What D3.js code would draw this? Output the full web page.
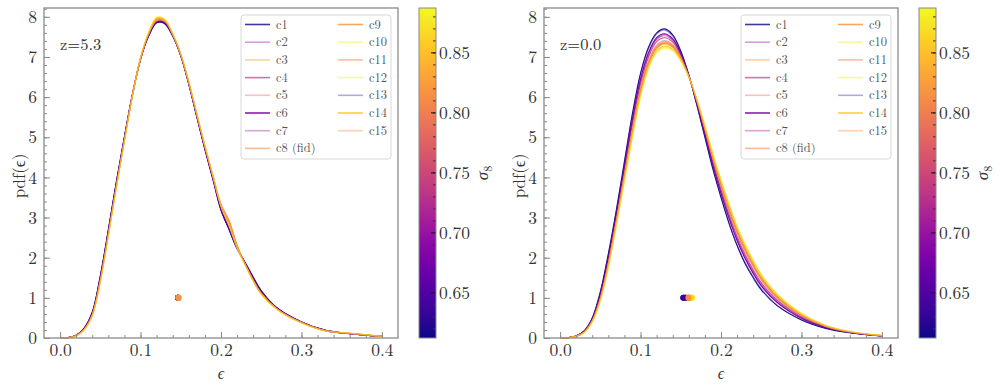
<!DOCTYPE html>
<html>
<head>
<meta charset="utf-8">
<script src="https://cdn.jsdelivr.net/npm/d3@7"></script>
<style>
  body { margin: 0; background: #fff; }
  svg { display: block; }
</style>
</head>
<body>
<svg id="chart" width="1000" height="387"></svg>
<script>
// cosmologies and their sigma_8 (colour) and line alpha
const names = ['c1', 'c2', 'c3', 'c4', 'c5', 'c6', 'c7', 'c8 (fid)',
               'c9', 'c10', 'c11', 'c12', 'c13', 'c14', 'c15'];
const sigma8 = [0.612, 0.695, 0.832, 0.736, 0.777, 0.681, 0.708, 0.810,
                0.820, 0.873, 0.800, 0.887, 0.630, 0.860, 0.815];
const lineAlpha = [0.8, 0.4, 0.5, 0.7, 0.4, 0.9, 0.4, 0.6,
                   0.85, 0.4, 0.5, 0.5, 0.35, 0.9, 0.4];

// epsilon grid where the pdfs are sampled
const epsGrid = [0, .01, .02, .03, .04, .05, .06, .07, .08, .09, .10, .11, .12, .13, .14, .15,
                 .16, .17, .18, .19, .20, .21, .22, .23, .24, .25, .27, .30, .33, .36, .40];

// pdf(eps) at z=5.3, one row per cosmology (c1..c15)
const pdfZ53 = [
  [0,.01,.07,.25,.64,1.55,2.70,3.90,5.02,6.08,6.95,7.52,7.85,7.83,7.52,7.03,6.32,5.50,4.70,3.95,3.18,2.70,2.22,1.88,1.52,1.18,.74,.40,.19,.11,.04],
  [0,.01,.06,.23,.61,1.50,2.65,3.85,4.98,6.06,6.95,7.53,7.87,7.86,7.53,7.04,6.33,5.52,4.72,3.98,3.22,2.76,2.24,1.86,1.48,1.14,.73,.39,.18,.11,.04],
  [0,.01,.06,.21,.57,1.43,2.57,3.78,4.93,6.05,6.97,7.59,7.96,7.92,7.57,7.06,6.37,5.56,4.77,4.02,3.28,2.82,2.25,1.83,1.43,1.10,.71,.38,.18,.12,.04],
  [0,.01,.06,.22,.59,1.47,2.62,3.82,4.96,6.06,6.95,7.55,7.89,7.87,7.54,7.05,6.35,5.54,4.74,4.00,3.24,2.80,2.25,1.85,1.46,1.12,.72,.39,.18,.11,.04],
  [0,.01,.06,.22,.58,1.45,2.60,3.80,4.95,6.05,6.95,7.56,7.90,7.88,7.55,7.05,6.36,5.56,4.76,4.02,3.30,2.90,2.30,1.84,1.44,1.11,.72,.39,.18,.11,.04],
  [0,.01,.07,.24,.63,1.53,2.68,3.88,5.00,6.07,6.95,7.53,7.86,7.85,7.53,7.04,6.33,5.51,4.71,3.96,3.20,2.72,2.23,1.87,1.50,1.16,.74,.40,.19,.11,.04],
  [0,.01,.06,.23,.61,1.49,2.64,3.84,4.97,6.06,6.95,7.54,7.88,7.86,7.54,7.05,6.34,5.53,4.73,3.99,3.23,2.78,2.24,1.86,1.47,1.13,.73,.39,.18,.11,.04],
  [0,.01,.06,.22,.58,1.44,2.59,3.79,4.94,6.05,6.96,7.57,7.92,7.90,7.56,7.06,6.36,5.56,4.77,4.03,3.31,2.90,2.28,1.84,1.44,1.11,.72,.39,.18,.11,.04],
  [0,.01,.06,.21,.57,1.43,2.58,3.78,4.93,6.04,6.96,7.58,7.95,7.92,7.57,7.06,6.37,5.57,4.78,4.05,3.33,2.93,2.32,1.84,1.43,1.10,.71,.38,.18,.12,.04],
  [0,.01,.05,.20,.55,1.40,2.55,3.76,4.92,6.05,6.98,7.61,7.98,7.95,7.58,7.07,6.38,5.57,4.78,4.03,3.28,2.81,2.24,1.82,1.42,1.09,.70,.38,.18,.12,.04],
  [0,.01,.06,.22,.58,1.44,2.59,3.79,4.94,6.05,6.96,7.57,7.93,7.90,7.56,7.06,6.36,5.56,4.76,4.02,3.28,2.84,2.26,1.84,1.44,1.11,.72,.39,.18,.11,.04],
  [0,.01,.05,.20,.55,1.39,2.54,3.75,4.91,6.05,6.99,7.63,8.00,7.95,7.58,7.07,6.38,5.57,4.78,4.03,3.27,2.80,2.23,1.82,1.42,1.09,.70,.38,.18,.12,.04],
  [0,.01,.07,.25,.64,1.54,2.69,3.89,5.01,6.08,6.95,7.52,7.86,7.84,7.52,7.03,6.32,5.50,4.70,3.95,3.19,2.71,2.22,1.88,1.51,1.17,.74,.40,.19,.11,.04],
  [0,.01,.05,.21,.56,1.41,2.56,3.77,4.92,6.05,6.97,7.60,7.97,7.93,7.57,7.07,6.37,5.57,4.78,4.03,3.29,2.83,2.25,1.83,1.43,1.10,.71,.38,.18,.12,.04],
  [0,.01,.06,.22,.58,1.45,2.60,3.80,4.95,6.05,6.96,7.56,7.91,7.89,7.55,7.06,6.36,5.55,4.76,4.02,3.29,2.86,2.27,1.84,1.44,1.11,.72,.39,.18,.11,.04]
];

// pdf(eps) at z=0.0, one row per cosmology (c1..c15)
const pdfZ00 = [
  [0,.01,.05,.18,.50,1.15,2.10,3.20,4.40,5.60,6.60,7.25,7.60,7.70,7.55,7.15,6.55,5.80,5.00,4.20,3.50,2.85,2.30,1.85,1.50,1.20,.80,.45,.24,.13,.05],
  [0,.01,.05,.17,.47,1.08,2.00,3.08,4.25,5.42,6.42,7.09,7.45,7.56,7.43,7.08,6.54,5.85,5.09,4.32,3.64,3.00,2.45,2.00,1.64,1.32,.89,.50,.26,.14,.05],
  [0,.01,.04,.15,.42,.97,1.82,2.88,4.00,5.12,6.12,6.81,7.20,7.32,7.23,6.95,6.51,5.92,5.24,4.52,3.86,3.25,2.70,2.25,1.86,1.52,1.04,.59,.30,.15,.06],
  [0,.01,.05,.16,.46,1.05,1.94,3.02,4.18,5.33,6.33,7.00,7.38,7.48,7.37,7.04,6.53,5.87,5.14,4.38,3.70,3.08,2.53,2.08,1.70,1.38,.94,.53,.28,.14,.05],
  [0,.01,.04,.16,.44,1.01,1.89,2.96,4.10,5.24,6.24,6.92,7.30,7.41,7.31,7.00,6.52,5.89,5.18,4.44,3.77,3.15,2.60,2.15,1.77,1.44,.98,.55,.29,.15,.06],
  [0,.01,.05,.17,.48,1.09,2.01,3.10,4.28,5.45,6.45,7.11,7.48,7.58,7.45,7.09,6.54,5.84,5.08,4.30,3.61,2.98,2.43,1.98,1.61,1.30,.88,.49,.26,.14,.05],
  [0,.01,.05,.17,.47,1.07,1.98,3.06,4.23,5.39,6.39,7.06,7.43,7.53,7.41,7.06,6.53,5.85,5.11,4.34,3.66,3.03,2.48,2.03,1.66,1.34,.91,.51,.27,.14,.05],
  [0,.01,.04,.15,.43,.98,1.85,2.91,4.04,5.17,6.17,6.85,7.24,7.35,7.26,6.97,6.51,5.91,5.22,4.49,3.82,3.21,2.66,2.21,1.82,1.49,1.02,.57,.30,.15,.06],
  [0,.01,.04,.15,.42,.98,1.83,2.90,4.02,5.14,6.14,6.83,7.22,7.34,7.25,6.96,6.51,5.91,5.23,4.50,3.84,3.23,2.68,2.23,1.84,1.50,1.03,.58,.30,.15,.06],
  [0,.01,.04,.14,.41,.93,1.77,2.82,3.93,5.03,6.03,6.73,7.13,7.24,7.17,6.91,6.50,5.94,5.29,4.58,3.93,3.33,2.78,2.33,1.93,1.58,1.09,.61,.32,.16,.06],
  [0,.01,.04,.15,.43,.99,1.86,2.93,4.06,5.19,6.19,6.88,7.26,7.37,7.28,6.98,6.52,5.90,5.20,4.47,3.81,3.19,2.64,2.19,1.81,1.47,1.00,.57,.29,.15,.06],
  [0,.01,.04,.14,.40,.92,1.75,2.80,3.90,5.00,6.00,6.70,7.10,7.22,7.15,6.90,6.50,5.95,5.30,4.60,3.95,3.35,2.80,2.35,1.95,1.60,1.10,.62,.32,.16,.06],
  [0,.01,.05,.18,.49,1.13,2.08,3.17,4.37,5.56,6.56,7.21,7.57,7.67,7.52,7.13,6.55,5.81,5.02,4.23,3.53,2.88,2.33,1.88,1.53,1.23,.82,.46,.25,.13,.05],
  [0,.01,.04,.14,.41,.94,1.79,2.84,3.95,5.06,6.06,6.76,7.15,7.27,7.19,6.93,6.51,5.94,5.27,4.56,3.91,3.30,2.75,2.30,1.91,1.56,1.07,.60,.31,.16,.06],
  [0,.01,.04,.15,.44,1.00,1.87,2.94,4.08,5.21,6.21,6.89,7.28,7.39,7.29,6.99,6.52,5.90,5.20,4.46,3.79,3.18,2.63,2.18,1.79,1.46,1.00,.56,.29,.15,.06]
];

// mean epsilon per cosmology (dots drawn at pdf = 1)
const meanEpsZ53 = [0.1465, 0.1468, 0.1472, 0.1469, 0.147, 0.1466, 0.1469, 0.147,
                    0.1471, 0.1473, 0.147, 0.1474, 0.1465, 0.1472, 0.147];
const meanEpsZ00 = [0.153, 0.1555, 0.162, 0.157, 0.159, 0.155, 0.156, 0.1605,
                    0.161, 0.1635, 0.160, 0.164, 0.1535, 0.163, 0.1595];

const xTicks = [0, 0.1, 0.2, 0.3, 0.4];
const yTicks = [0, 1, 2, 3, 4, 5, 6, 7, 8];
const cbarTicks = [0.65, 0.70, 0.75, 0.80, 0.85];

const FONT = '"Latin Modern Roman", "Liberation Serif", serif';
const svg = d3.select('#chart');
const sMin = d3.min(sigma8), sMax = d3.max(sigma8);
const color = d3.scaleSequential(d3.interpolatePlasma).domain([sMin, sMax]);
const frameColor = '#8a8a8a';
const textColor = '#333';

// gradient for the colour bars
const grad = svg.append('defs').append('linearGradient')
    .attr('id', 'plasma').attr('x1', 0).attr('y1', 1).attr('x2', 0).attr('y2', 0);
d3.range(0, 1.0001, 0.05).forEach(t => {
    grad.append('stop').attr('offset', t).attr('stop-color', d3.interpolatePlasma(t));
});

function styleTicks(sel) {
    sel.selectAll('.tick text')
        .style('font-family', FONT).style('font-size', '17.5px').attr('fill', textColor);
}

function drawPanel(ox, pdfs, means, zLabel) {
    const margin = { left: 44, right: 398, top: 8, bottom: 338 };
    const g = svg.append('g').attr('transform', `translate(${ox},0)`);

    const x = d3.scaleLinear().domain([-0.02, 0.42]).range([margin.left, margin.right]);
    const y = d3.scaleLinear().domain([0, 8.22]).range([margin.bottom, margin.top]);

    // curves
    const line = d3.line()
        .x((d, i) => x(epsGrid[i]))
        .y(d => y(d))
        .curve(d3.curveCatmullRom.alpha(0.5));

    pdfs.forEach((row, i) => {
        g.append('path')
            .datum(row)
            .attr('fill', 'none')
            .attr('stroke', color(sigma8[i]))
            .attr('stroke-opacity', Math.min(1, lineAlpha[i] + 0.15))
            .attr('stroke-width', 1.1)
            .attr('d', line);
    });

    // mean markers
    means.forEach((m, i) => {
        g.append('circle')
            .attr('cx', x(m)).attr('cy', y(1)).attr('r', 3)
            .attr('fill', color(sigma8[i]));
    });

    // axes, ticks inward
    g.append('g').attr('transform', `translate(0,${margin.bottom})`)
        .call(d3.axisBottom(x).tickValues(xTicks).tickSize(-6).tickPadding(6)
              .tickFormat(d3.format('.1f')))
        .call(styleTicks);
    g.append('g').attr('transform', `translate(0,${margin.bottom})`)
        .call(d3.axisBottom(x).tickValues(d3.range(0, 0.401, 0.02)).tickSize(-3).tickFormat(''));
    g.append('g').attr('transform', `translate(${margin.left},0)`)
        .call(d3.axisLeft(y).tickValues(yTicks).tickSize(-6).tickPadding(7))
        .call(styleTicks);
    g.append('g').attr('transform', `translate(${margin.left},0)`)
        .call(d3.axisLeft(y).tickValues(d3.range(0, 8.21, 0.2)).tickSize(-3).tickFormat(''));

    g.selectAll('.domain').remove();
    g.selectAll('.tick line').attr('stroke', frameColor).attr('stroke-width', 1);

    g.append('rect')
        .attr('x', margin.left).attr('y', margin.top)
        .attr('width', margin.right - margin.left).attr('height', margin.bottom - margin.top)
        .attr('fill', 'none').attr('stroke', frameColor).attr('stroke-width', 1.3);

    // labels
    g.append('text')
        .attr('x', (margin.left + margin.right) / 2).attr('y', 379)
        .attr('text-anchor', 'middle')
        .style('font-family', FONT).style('font-size', '16px').style('font-style', 'italic')
        .attr('fill', textColor)
        .text('ϵ');
    g.append('text')
        .attr('transform', `translate(25,${(margin.top + margin.bottom) / 2 + 3}) rotate(-90)`)
        .attr('text-anchor', 'middle')
        .style('font-family', FONT).style('font-size', '17px').attr('fill', textColor)
        .text('pdf(ϵ)');
    g.append('text')
        .attr('x', 60).attr('y', 50)
        .style('font-family', FONT).style('font-size', '16.5px').attr('fill', textColor)
        .text(zLabel);

    // legend
    const leg = g.append('g');
    leg.append('rect')
        .attr('x', 241).attr('y', 15).attr('width', 150).attr('height', 144)
        .attr('rx', 3).attr('fill', 'white').attr('fill-opacity', 0.8)
        .attr('stroke', '#d8d8d8');
    names.forEach((name, i) => {
        const col = i < 8 ? 0 : 1;
        const row = i < 8 ? i : i - 8;
        const lx = col === 0 ? 245 : 338;
        const ly = 24.5 + row * 17.7;
        leg.append('line')
            .attr('x1', lx).attr('x2', lx + 25).attr('y1', ly).attr('y2', ly)
            .attr('stroke', color(sigma8[i])).attr('stroke-opacity', lineAlpha[i])
            .attr('stroke-width', 1.6);
        leg.append('text')
            .attr('x', lx + 31).attr('y', ly + 4)
            .style('font-family', FONT).style('font-size', '12.5px').attr('fill', '#555')
            .text(name);
    });

    // colour bar
    const cb = { x: 419, w: 17 };
    const cy = d3.scaleLinear().domain([sMin, sMax]).range([margin.bottom, margin.top]);
    g.append('rect')
        .attr('x', cb.x).attr('y', margin.top)
        .attr('width', cb.w).attr('height', margin.bottom - margin.top)
        .attr('fill', 'url(#plasma)');
    g.append('g').attr('transform', `translate(${cb.x + cb.w},0)`)
        .call(d3.axisRight(cy).tickValues(d3.range(0.62, 0.885, 0.01)).tickSize(-3).tickFormat(''))
        .call(a => a.select('.domain').remove())
        .call(a => a.selectAll('.tick line').attr('stroke', '#333'));
    g.append('g').attr('transform', `translate(${cb.x + cb.w},0)`)
        .call(d3.axisRight(cy).tickValues(cbarTicks).tickSize(-5).tickPadding(3)
              .tickFormat(d3.format('.2f')))
        .call(a => a.select('.domain').remove())
        .call(a => a.selectAll('.tick line').attr('stroke', '#111'))
        .call(styleTicks);
    g.append('rect')
        .attr('x', cb.x).attr('y', margin.top)
        .attr('width', cb.w).attr('height', margin.bottom - margin.top)
        .attr('fill', 'none').attr('stroke', frameColor).attr('stroke-width', 1);
    g.append('text')
        .attr('transform', `translate(488,${(margin.top + margin.bottom) / 2}) rotate(-90)`)
        .attr('text-anchor', 'middle')
        .style('font-family', FONT).style('font-size', '17px').attr('fill', textColor)
        .html('<tspan font-style="italic">σ</tspan><tspan dy="4" font-size="12">8</tspan>');
}

drawPanel(0, pdfZ53, meanEpsZ53, 'z=5.3');
drawPanel(500, pdfZ00, meanEpsZ00, 'z=0.0');
</script>
</body>
</html>
